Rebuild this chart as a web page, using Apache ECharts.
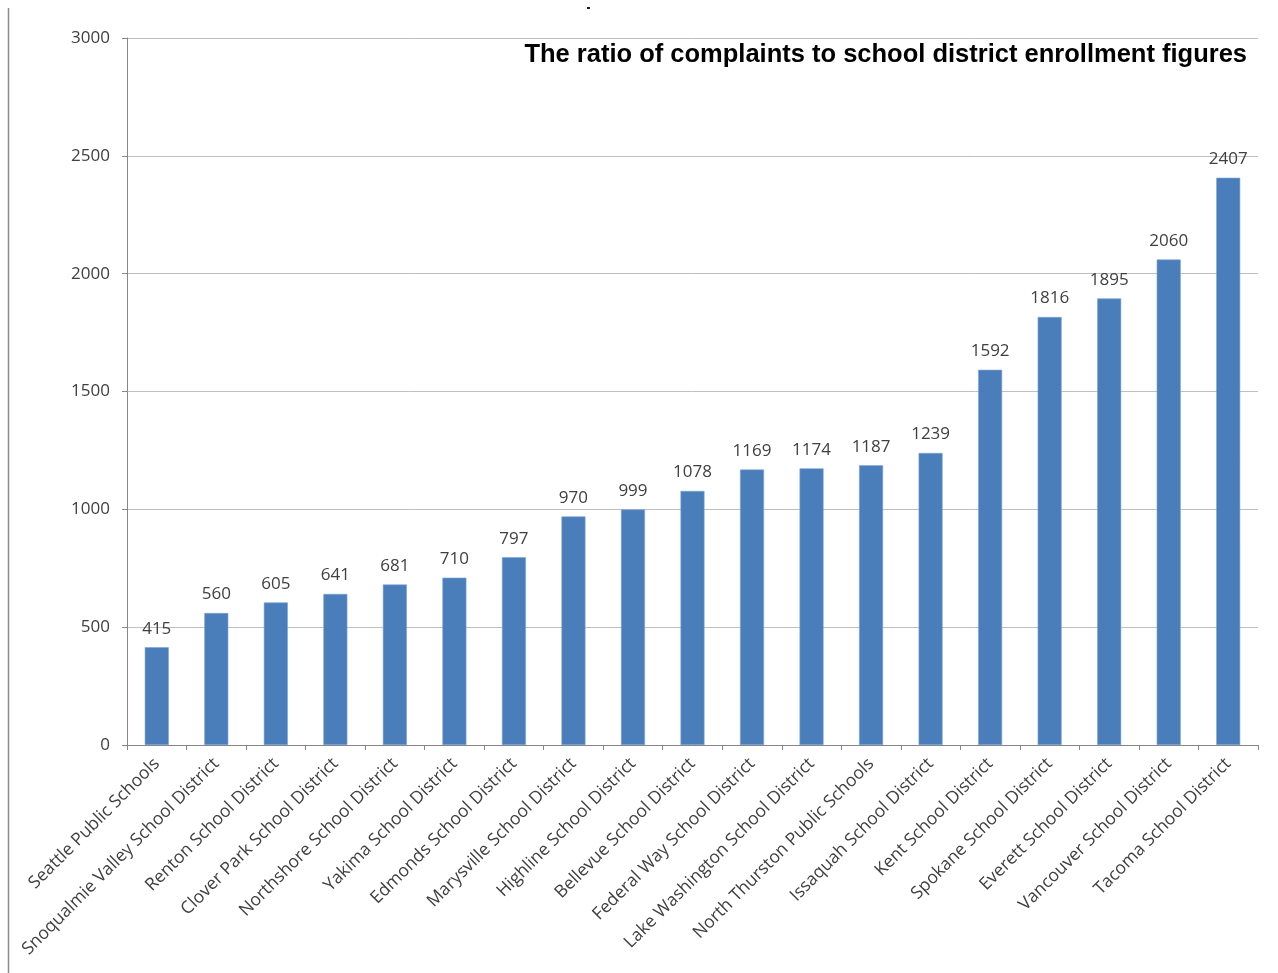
<!DOCTYPE html>
<html><head><meta charset="utf-8">
<script src="https://cdn.jsdelivr.net/npm/echarts@6/dist/echarts.min.js"></script>
<style>html,body{margin:0;padding:0;background:#fff}#c{width:1278px;height:973px}</style>
</head><body><div id="c"></div>
<script>
const categories = ["Seattle Public Schools","Snoqualmie Valley School District","Renton School District","Clover Park School District","Northshore School District","Yakima School District","Edmonds School District","Marysville School District","Highline School District","Bellevue School District","Federal Way School District","Lake Washington School District","North Thurston Public Schools","Issaquah School District","Kent School District","Spokane School District","Everett School District","Vancouver School District","Tacoma School District"];
const values = [415,560,605,641,681,710,797,970,999,1078,1169,1174,1187,1239,1592,1816,1895,2060,2407];
const titleText = "The ratio of complaints to school district enrollment figures";

const chart = echarts.init(document.getElementById('c'), null, {renderer:'canvas'});
chart.setOption({
  animation:false,
  backgroundColor:'#fff',
  title:{text:titleText, right:26, top:37, textStyle:{fontFamily:'Liberation Sans', fontWeight:'bold', fontSize:25.5, color:'#000'}},
  grid:{left:127, right:20, top:38, bottom:228, containLabel:false},
  xAxis:{type:'category', data:categories,
    axisLine:{lineStyle:{color:'#868686', width:1}},
    axisTick:{show:true, length:5, alignWithLabel:false, lineStyle:{color:'#868686'}},
    axisLabel:{rotate:45, interval:0, margin:16, fontFamily:'Open Sans', fontSize:17.5, color:'#404040'}},
  yAxis:{type:'value', min:0, max:3000, interval:500,
    axisLine:{show:true, lineStyle:{color:'#868686'}},
    axisTick:{show:true, length:5, lineStyle:{color:'#868686'}},
    splitLine:{lineStyle:{color:'#bfbfbf'}},
    axisLabel:{margin:17, fontFamily:'Open Sans', fontSize:17, color:'#404040', formatter:function(v){return String(v);}}},
  series:[{type:'bar', data:values, barWidth:24,
    itemStyle:{color:'#4a7ebb', borderColor:'#7ea3d3', borderWidth:0.6},
    label:{show:true, position:'top', distance:10, fontFamily:'Open Sans', fontSize:17, color:'#404040'}}],
  graphic:[
    {type:'line', shape:{x1:8.5,y1:8,x2:8.5,y2:973}, style:{stroke:'#8c8c8c', lineWidth:1.5}},
    {type:'rect', shape:{x:587,y:7,width:3,height:2}, style:{fill:'#222'}}
  ]
});
</script></body></html>
